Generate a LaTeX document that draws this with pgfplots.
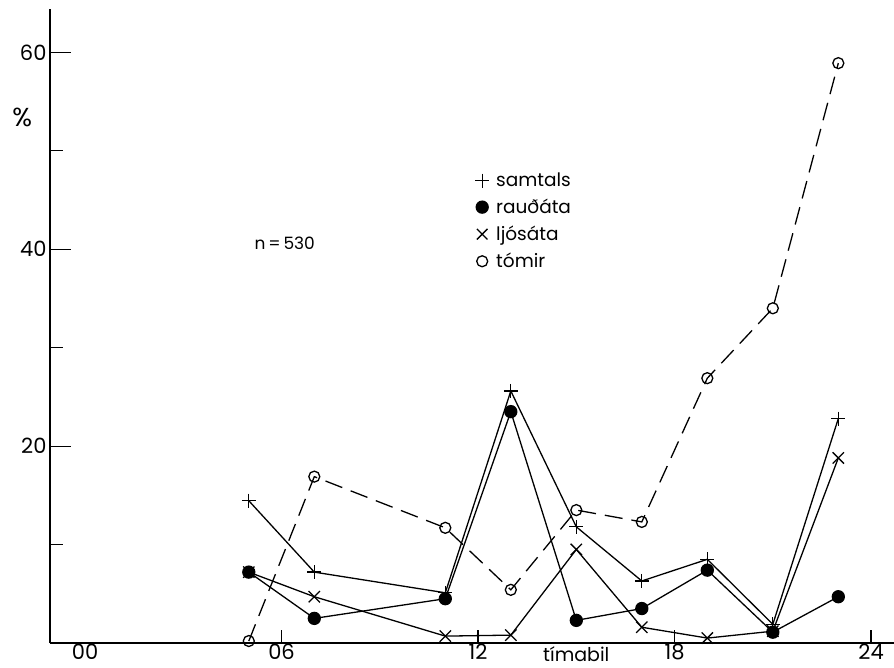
\documentclass[border=0pt]{standalone}
\usepackage{fontspec}
\setmainfont{Poppins}
\usepackage{pgfplots}
\pgfplotsset{compat=1.18}
\begin{document}
\begin{tikzpicture}[x=1pt,y=1pt]
\path[use as bounding box] (0,0) rectangle (894,667);
\begin{axis}[
  at={(50pt,24pt)}, anchor=south west,
  scale only axis, width=844pt, height=634pt,
  xmin=-1.07, xmax=24.7, ymin=0, ymax=64.4,
  axis x line=bottom, axis y line=left,
  axis line style={-, line width=1.3pt},
  clip=false,
  /pgf/number format/assume math mode=true,
  tick align=inside,
  major tick length=13pt,
  tick style={line width=1.2pt, black},
  xtick={6,12,18,24}, xticklabels={06,12,18,24},
  extra x ticks={0}, extra x tick labels={00},
  extra x tick style={major tick length=0pt},
  ytick={10,30,50}, yticklabels={},
  extra y ticks={20,40,60}, extra y tick labels={20,40,60},
  extra y tick style={major tick length=21pt},
  tick label style={font=\fontsize{21}{25}\selectfont},
  xticklabel style={inner sep=1pt, yshift=0pt},
  legend style={draw=none, fill=none, at={(axis description cs:0.500,0.748)}, anchor=north west,
    font=\fontsize{18.5}{22}\selectfont, row sep=7pt,
    /tikz/every odd column/.append style={column sep=5pt}},
  legend cell align=left,
  every axis plot/.append style={line width=1.3pt, black},
]
\addlegendimage{only marks, mark=+, mark size=7pt, line width=1.3pt}
\addlegendentry{samtals}
\addlegendimage{only marks, mark=*, mark size=6pt}
\addlegendentry{rauðáta}
\addlegendimage{only marks, mark=x, mark size=7.5pt, line width=1.3pt}
\addlegendentry{ljósáta}
\addlegendimage{only marks, mark=o, mark size=5.5pt, line width=1.3pt}
\addlegendentry{tómir}

% tomir
\addplot[dash pattern=on 18pt off 9pt, mark=o, mark size=5.5pt, mark options={solid, fill=white}, forget plot]
  coordinates {(5,0.2)(7,16.9)(11,11.7)(13,5.4)(15,13.5)(17,12.3)(19,26.9)(21,34.0)(23,58.9)};
% samtals
\addplot[mark=+, mark size=7pt, forget plot]
  coordinates {(5,14.45)(7,7.2)(11,5.1)(13,25.6)(15,11.8)(17,6.3)(19,8.5)(21,1.9)(23,22.8)};
% ljosata
\addplot[mark=x, mark size=8pt, forget plot]
  coordinates {(5,7.2)(7,4.7)(11,0.7)(13,0.8)(15,9.5)(17,1.6)(19,0.5)(21,1.2)(23,18.8)};
% raudata
\addplot[mark=*, mark size=6pt, forget plot]
  coordinates {(5,7.2)(7,2.5)(11,4.5)(13,23.5)(15,2.3)(17,3.5)(19,7.4)(21,1.1)(23,4.7)};

\node[font=\fontsize{26}{30}\selectfont] at (axis cs:-1.92,53.4) {\%};
\node[font=\fontsize{17}{20}\selectfont] at (axis cs:6.1,40.6) {n\,=\,530};
\node[font=\fontsize{19}{22}\selectfont] at (axis cs:15,0) [yshift=-11pt] {tímabil};
\end{axis}
\end{tikzpicture}
\end{document}
